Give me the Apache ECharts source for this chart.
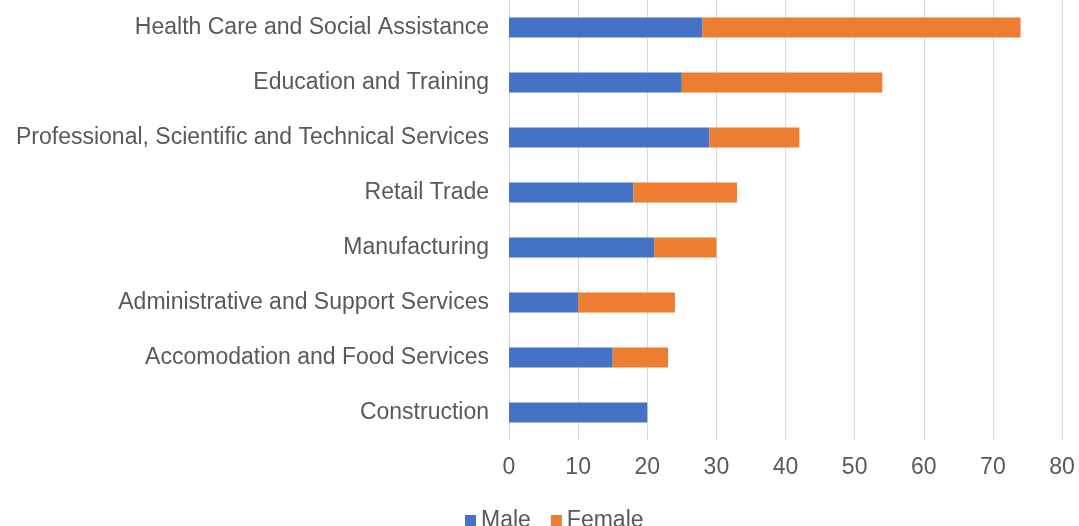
<!DOCTYPE html>
<html>
<head>
<meta charset="utf-8">
<style>html,body{margin:0;padding:0;background:#fff;}#chart{width:1079px;height:526px;}</style>
<script src="https://cdn.jsdelivr.net/npm/echarts@6/dist/echarts.min.js"></script>
</head>
<body>
<div id="chart"></div>
<script>
var categories = ["Construction","Accomodation and Food Services","Administrative and Support Services","Manufacturing","Retail Trade","Professional, Scientific and Technical Services","Education and Training","Health Care and Social Assistance"];
var male = [20,15,10,21,18,29,25,28];
var female = [0,8,14,9,15,13,29,46];
var xTicks = [0,10,20,30,40,50,60,70,80];

var chart = echarts.init(document.getElementById('chart'));
var font = 'Liberation Sans, Arial, sans-serif';
chart.setOption({
  animation: false,
  textStyle: {fontFamily: font},
  grid: {left: 509, right: 17, top: 0, height: 440, containLabel: false},
  legend: {
    data: ['Male','Female'], top: 504, left: 460,
    itemWidth: 11, itemHeight: 11, itemGap: 20,
    icon: 'rect',
    textStyle: {fontSize: 23, color: '#595959', fontFamily: font, padding: [0,0,0,0]}
  },
  xAxis: {
    type: 'value', min: xTicks[0], max: xTicks[xTicks.length-1], interval: 10,
    axisLine: {show: false}, axisTick: {show: false},
    axisLabel: {fontSize: 23, color: '#595959', margin: 16, fontFamily: font},
    splitLine: {lineStyle: {color: '#d9d9d9', width: 1}}
  },
  yAxis: {
    type: 'category', data: categories,
    axisLine: {lineStyle: {color: '#d9d9d9'}}, axisTick: {show: false},
    axisLabel: {fontSize: 23, color: '#595959', margin: 20, fontFamily: font}
  },
  series: [
    {name: 'Male', type: 'bar', stack: 'total', data: male, barWidth: 20, itemStyle: {color: '#4472c4'}},
    {name: 'Female', type: 'bar', stack: 'total', data: female, barWidth: 20, itemStyle: {color: '#ed7d31'}}
  ]
});
</script>
</body>
</html>
